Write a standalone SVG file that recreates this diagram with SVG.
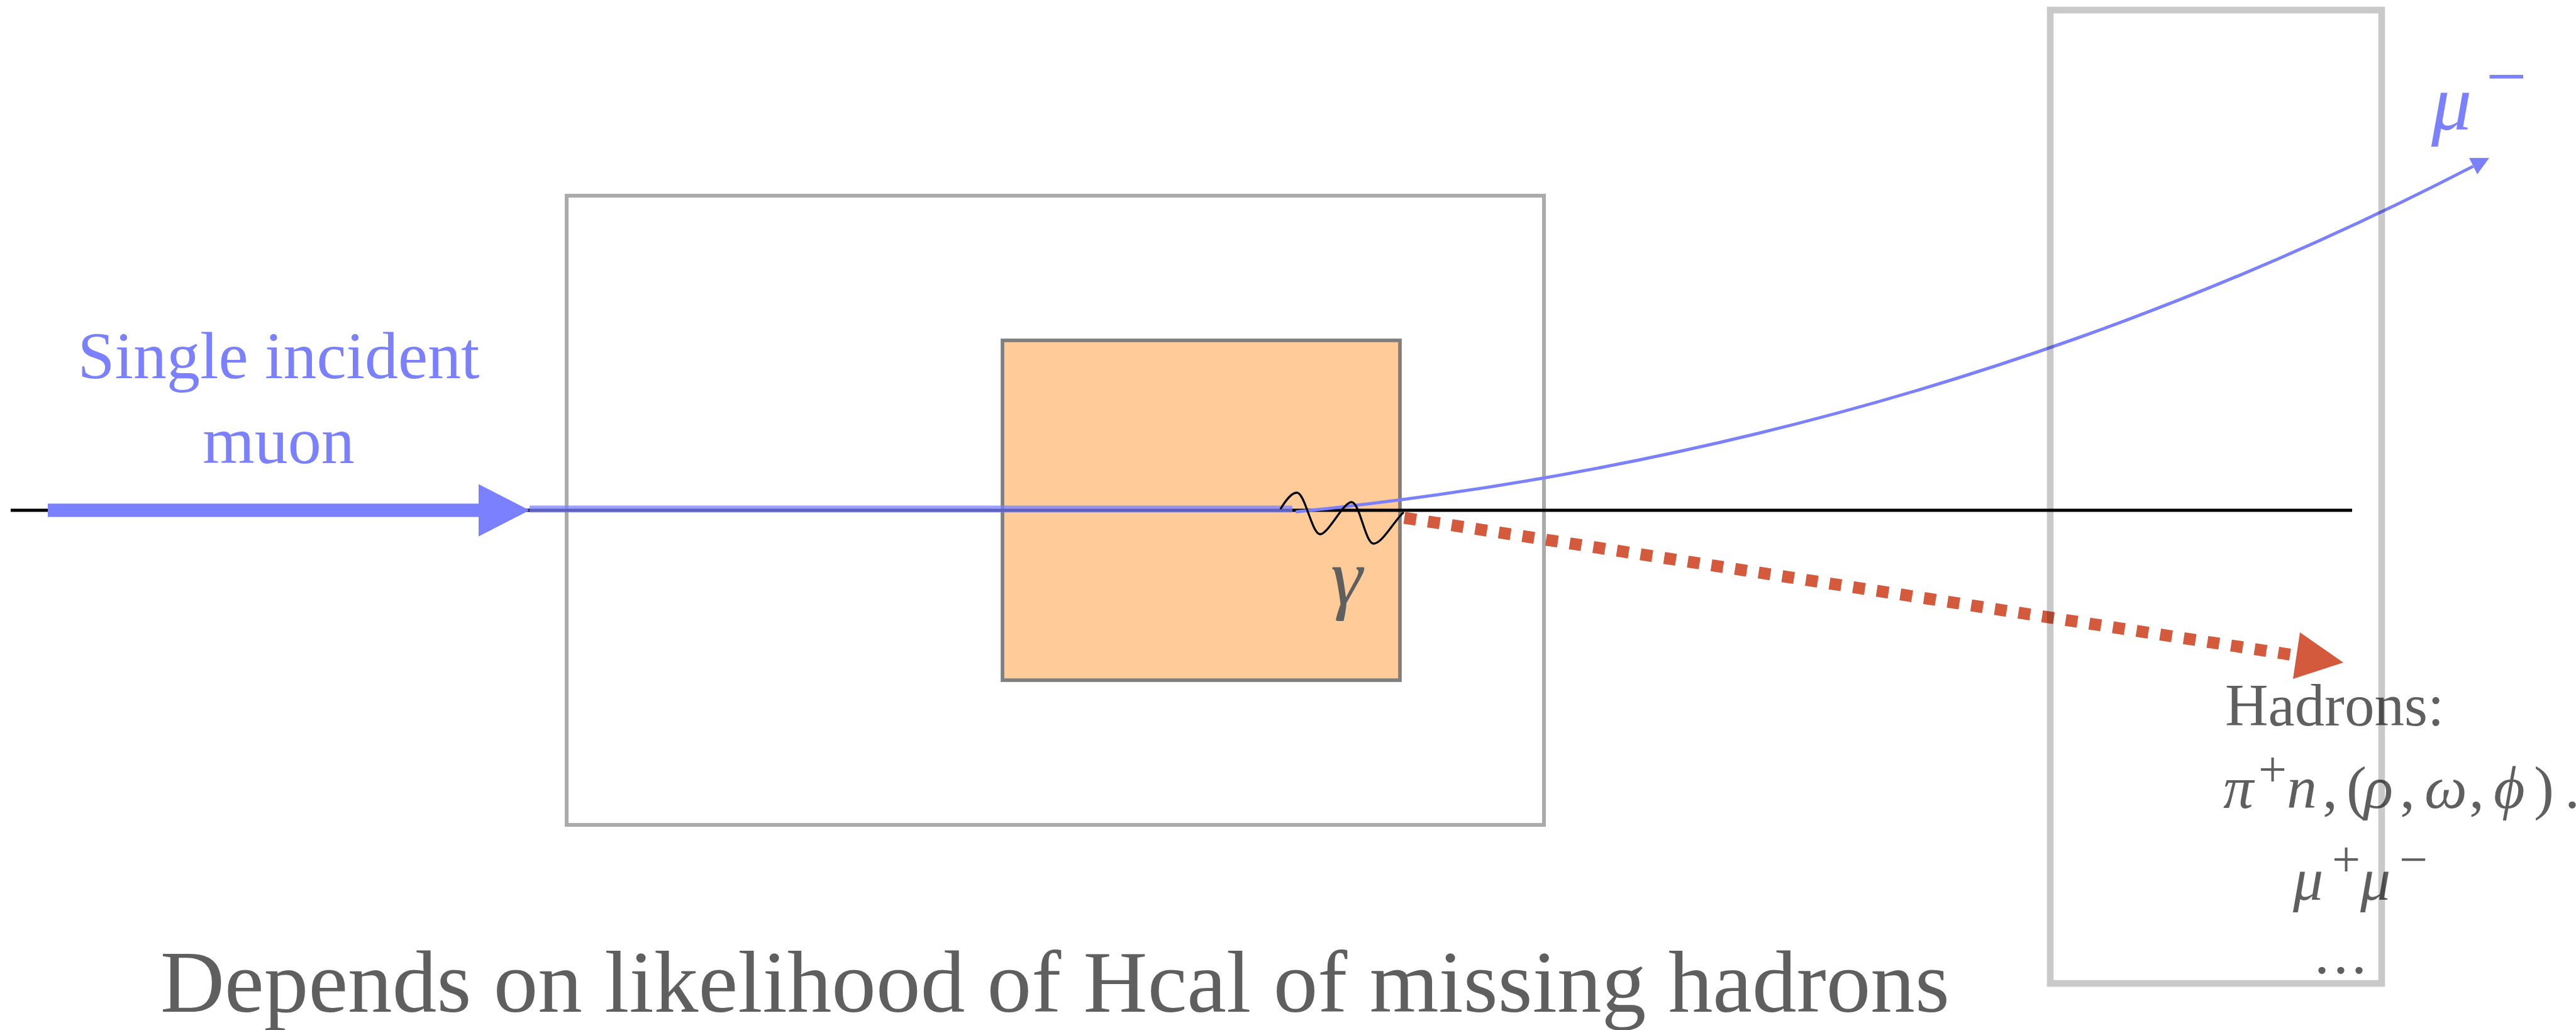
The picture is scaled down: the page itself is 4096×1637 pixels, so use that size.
<svg xmlns="http://www.w3.org/2000/svg" width="4096" height="1637" viewBox="0 0 4096 1637">
<style>
.txt{font-family:"Liberation Serif","DejaVu Serif",serif;}
.grey{fill:#5f5f5f;}
.blue{fill:#7b80ff;}
.it{font-style:italic;}
</style>
<rect width="4096" height="1637" fill="#ffffff"/>
<g id="outer-box"><rect x="901" y="311" width="1554" height="1000" fill="none" stroke="#ababab" stroke-width="6"/></g>
<g id="target"><rect x="1594" y="541" width="632" height="540" fill="#ffcc99" stroke="#7f7f7f" stroke-width="5.7"/></g>
<g id="connectors">
<line x1="17" y1="811" x2="3740" y2="811" stroke="#000" stroke-width="4.8"/>
<g id="incident-arrow" fill="#7b80ff">
<rect x="76" y="800.4" width="685" height="21.2"/>
<polygon points="761,769.4 842,811 761,852.6"/>
</g>
<line x1="842" y1="809" x2="2055" y2="809" stroke="#7b80ff" stroke-opacity="0.75" stroke-width="10.8"/>
<path d="M2060.4,813.6 Q3062.4,713.2 3932.3,264.4" fill="none" stroke="#7b80ff" stroke-width="5"/>
<polygon points="3958,251 3926,251 3939,277" fill="#7b80ff"/>
<path d="M2036,809 C2044,796 2053,783 2062,783 C2075,783 2086,849 2099,849 C2112,849 2136,798 2149,798 C2162,798 2171,864 2184,864 C2198,864 2218,826 2232,814" fill="none" stroke="#000" stroke-width="3.3"/>
<line x1="2233" y1="823" x2="3652" y2="1042" stroke="#d45a3d" stroke-width="19" stroke-dasharray="19 19"/>
<polygon points="3726,1053 3657,1005 3646,1079" fill="#d45a3d"/>
</g>
<g id="label-incident" class="txt blue" font-size="106" text-anchor="middle">
<text x="443" y="601">Single incident</text>
<text x="443" y="736">muon</text>
</g>
<g id="label-gamma"><text class="txt grey it" x="2116" y="960" font-size="128">γ</text></g>
<g id="label-muminus" class="txt blue">
<text class="it" x="3866" y="206" font-size="128">μ</text>
<text x="3953" y="160" font-size="115">−</text>
</g>
<g id="label-hadrons" class="txt grey">
<text x="3538" y="1153" font-size="95">Hadrons:</text>
<text y="1284" font-size="96"><tspan class="it" x="3535">π</tspan><tspan x="3591" y="1250" font-size="80">+</tspan><tspan class="it" x="3636" y="1284">n</tspan><tspan x="3693">,</tspan><tspan x="3731">(</tspan><tspan class="it" x="3759">ρ</tspan><tspan x="3816">,</tspan><tspan class="it" x="3855">ω</tspan><tspan x="3926">,</tspan><tspan class="it" x="3965">ϕ</tspan><tspan x="4029">)</tspan><tspan x="4078">.</tspan></text>
<text y="1430" font-size="96"><tspan class="it" x="3646">μ</tspan><tspan x="3708" y="1393" font-size="80">+</tspan><tspan class="it" x="3753" y="1430">μ</tspan><tspan x="3815" y="1393" font-size="80">−</tspan></text>
<text y="1547" font-size="96" text-anchor="middle"><tspan x="3692">.</tspan><tspan x="3722">.</tspan><tspan x="3751">.</tspan></text>
</g>
<g id="label-depends"><text class="txt grey" x="255" y="1608" font-size="140" textLength="2845" lengthAdjust="spacingAndGlyphs">Depends on likelihood of Hcal of missing hadrons</text></g>
<g id="detector-box"><rect x="3260" y="16" width="527" height="1547" fill="none" stroke="#000" stroke-opacity="0.21" stroke-width="10.6"/></g>
</svg>
